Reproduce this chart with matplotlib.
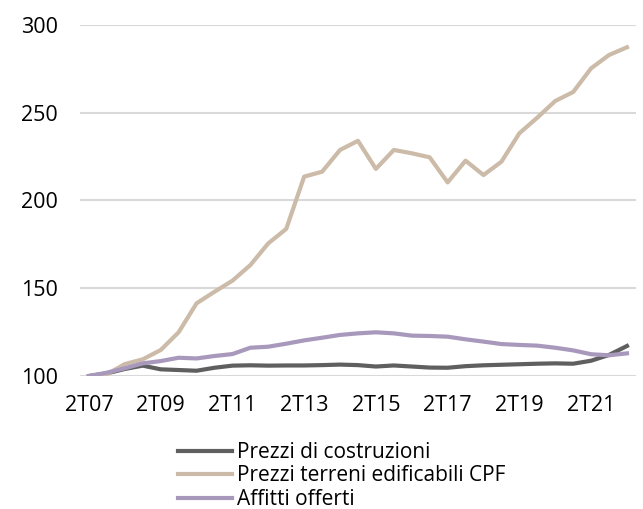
import matplotlib
matplotlib.use("Agg")
import matplotlib.pyplot as plt

plt.rcParams['font.family'] = ['Open Sans', 'DejaVu Sans']

# semi-annual periods, 2T07 .. 2T22
periods = []
for year in range(7, 23):
    periods.append(f"2T{year:02d}")
    if year < 22:
        periods.append(f"4T{year:02d}")

costruzioni = [100, 101.5, 104, 105.9, 103.8, 103.4, 103, 104.7, 105.9, 106.1,
               105.9, 106, 106, 106.2, 106.5, 106.2, 105.4, 106, 105.4, 104.8,
               104.7, 105.6, 106.1, 106.4, 106.7, 107, 107.2, 107, 108.7, 112,
               117.1]
terreni = [100, 101, 106.8, 109.5, 114.8, 124.9, 141.4, 148, 154.3, 163.2,
           175.6, 183.8, 213.6, 216.4, 228.8, 234, 218, 228.8, 226.9, 224.6,
           210.3, 222.7, 214.5, 222.1, 238.3, 247.2, 256.7, 261.8, 275.3,
           282.9, 287.3]
affitti = [100, 101.9, 104.4, 107.2, 108.5, 110.4, 110, 111.4, 112.5, 116.1,
           116.7, 118.4, 120.3, 121.8, 123.4, 124.3, 124.9, 124.3, 123, 122.8,
           122.4, 120.9, 119.6, 118.2, 117.7, 117.3, 116.1, 114.6, 112.4,
           111.8, 112.9]

x = list(range(len(periods)))
fs = 15.5

fig = plt.figure(figsize=(6.43, 5.09), dpi=100)
ax = fig.add_axes([0.1244, 0.2613, 0.8646, 0.6896])

ax.plot(x, costruzioni, color="#5f5f5f", lw=3, label="Prezzi di costruzioni")
ax.plot(x, terreni, color="#cbbba8", lw=3, label="Prezzi terreni edificabili CPF")
ax.plot(x, affitti, color="#a898bb", lw=3, label="Affitti offerti")

ax.set_xlim(-0.5, len(x) - 0.5)
ax.set_ylim(100, 300)
ax.set_yticks([100, 150, 200, 250, 300])
ax.set_xticks(x[::4])
ax.set_xticklabels(periods[::4])
ax.tick_params(axis="both", length=0, labelsize=fs, colors="black")
ax.tick_params(axis="y", pad=16)
ax.tick_params(axis="x", pad=14)
ax.grid(axis="y", color="#d9d9d9", lw=1.5)
ax.set_axisbelow(True)
for s in ax.spines.values():
    s.set_visible(False)

fig.legend(loc="upper left", bbox_to_anchor=(0.277, 0.132), frameon=False,
           fontsize=15, handlelength=2.6, handletextpad=0.25,
           labelspacing=0.12, borderpad=0, borderaxespad=0)

fig.savefig("out.png", dpi=100)
